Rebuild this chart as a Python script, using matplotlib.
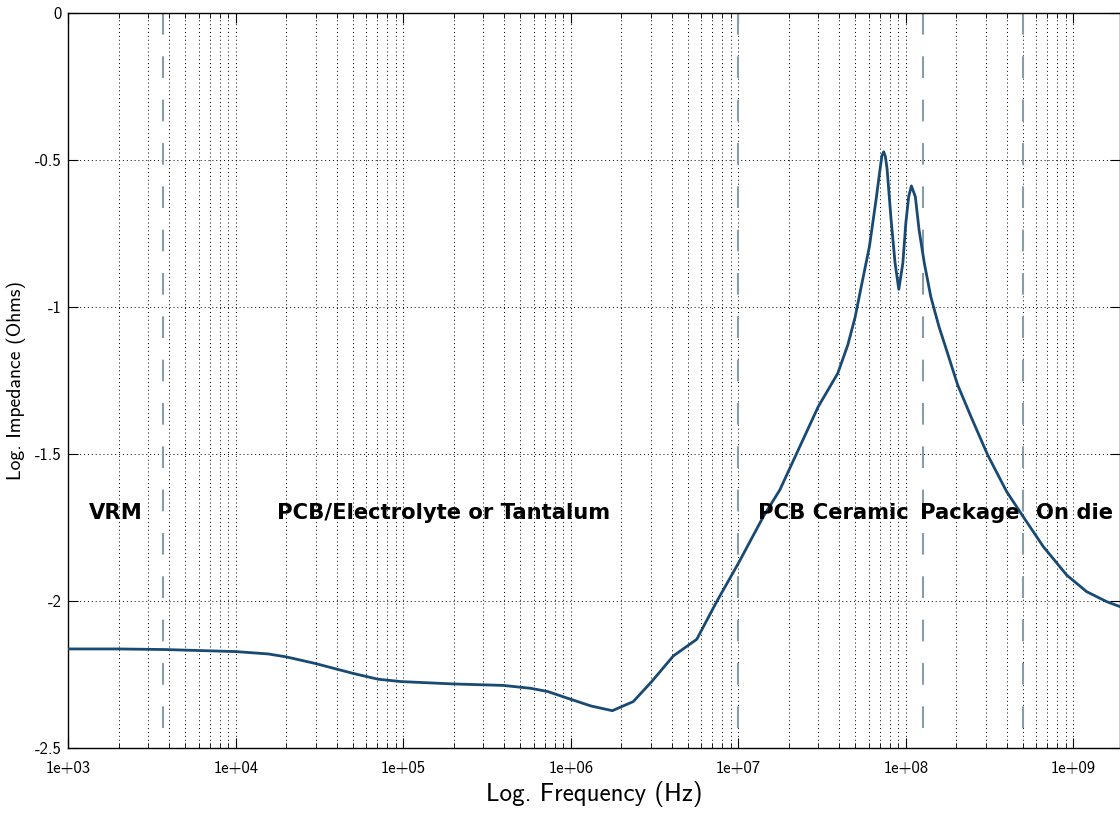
import matplotlib

matplotlib.use("Agg")
import matplotlib.pyplot as plt
from matplotlib.ticker import FixedLocator, FuncFormatter, LogLocator, NullFormatter
import numpy as np

# ---- data ----------------------------------------------------------------
freq_hz = [
    1.0e3, 1.98e3, 3.77e3, 1.0e4, 1.56e4, 2.0e4, 2.96e4, 5.0e4, 7.07e4, 9.7e4,
    1.98e5, 3.94e5, 5.78e5, 7.3e5, 9.6e5, 1.32e6, 1.77e6, 2.36e6, 3.04e6, 4.09e6,
    5.65e6, 7.43e6, 1.0e7, 1.41e7, 1.77e7, 2.23e7, 3.0e7, 3.92e7, 4.5e7, 4.98e7,
    5.4e7, 6.06e7, 6.64e7, 7.05e7, 7.2e7, 7.38e7, 7.55e7, 7.73e7, 8.17e7, 8.63e7,
    9.08e7, 9.6e7, 1.0e8, 1.04e8, 1.08e8, 1.14e8, 1.2e8, 1.29e8, 1.41e8, 1.58e8,
    1.70e8, 2.04e8, 2.45e8, 3.08e8, 4.0e8, 5.02e8, 6.62e8, 9.14e8, 1.2e9, 1.58e9,
    1.9e9,
]
log_impedance = [
    -2.163, -2.163, -2.165, -2.172, -2.180, -2.190, -2.212, -2.246, -2.266, -2.274,
    -2.282, -2.287, -2.297, -2.308, -2.331, -2.357, -2.373, -2.342, -2.274, -2.187,
    -2.130, -2.002, -1.872, -1.713, -1.622, -1.498, -1.339, -1.226, -1.130, -1.035,
    -0.935, -0.795, -0.636, -0.523, -0.485, -0.472, -0.488, -0.530, -0.704, -0.851,
    -0.940, -0.851, -0.715, -0.625, -0.588, -0.625, -0.738, -0.851, -0.965, -1.068,
    -1.124, -1.265, -1.373, -1.503, -1.628, -1.713, -1.815, -1.912, -1.968, -2.002,
    -2.019,
]

# boundaries between decoupling regions (Hz)
region_edges = [3.7e3, 1.0e7, 1.26e8, 5.0e8]
region_names = ["VRM", "PCB/Electrolyte or Tantalum", "PCB Ceramic", "Package", "On die"]
region_label_x = [1.93e3, 1.75e5, 3.68e7, 2.42e8, 1.02e9]
region_label_y = -1.70

x_ticks = [1e3, 1e4, 1e5, 1e6, 1e7, 1e8, 1e9]
y_ticks = [0, -0.5, -1, -1.5, -2, -2.5]

LINE = "#184a73"
EDGE = "#8a9ca6"
FONT = "cmss10"

plt.rcParams.update(
    {
        "font.family": FONT,
        "axes.unicode_minus": False,
        "axes.linewidth": 1.0,
        "xtick.direction": "in",
        "ytick.direction": "in",
        "xtick.top": True,
        "ytick.right": True,
        "xtick.major.size": 7,
        "ytick.major.size": 7,
        "xtick.minor.size": 3.5,
        "xtick.major.pad": 9,
        "ytick.major.pad": 5,
    }
)

fig = plt.figure(figsize=(11.2, 8.23), dpi=100)
ax = fig.add_axes([0.061, 0.0911, 0.939, 0.8931])

ax.set_xscale("log")
ax.set_xlim(1e3, 1.9e9)
ax.set_ylim(-2.5, 0)

# dotted grid underneath everything
ax.grid(True, which="both", axis="x", color="black", lw=0.7, ls=(0, (1, 3)))
ax.grid(True, which="major", axis="y", color="black", lw=0.7, ls=(0, (1, 3)))
ax.set_axisbelow(True)

for xe in region_edges:
    ax.plot([xe, xe], [0, -2.5], color=EDGE, lw=1.5, ls=(0, (10.4, 10.4)), zorder=2)

ax.plot(freq_hz, log_impedance, color=LINE, lw=2.0, zorder=3)

for name, xl in zip(region_names, region_label_x):
    ax.text(xl, region_label_y, name, fontsize=15.2, fontweight="bold",
            family="DejaVu Sans", ha="center", va="center", color="black", zorder=4)

ax.xaxis.set_major_locator(FixedLocator(x_ticks))
ax.xaxis.set_minor_locator(LogLocator(base=10, subs=np.arange(2, 10), numticks=12))
ax.xaxis.set_minor_formatter(NullFormatter())
ax.xaxis.set_major_formatter(FuncFormatter(lambda v, _: f"{v:.0e}"))
ax.yaxis.set_major_locator(FixedLocator(y_ticks))
ax.yaxis.set_major_formatter(FuncFormatter(lambda v, _: f"{v:g}"))
ax.tick_params(labelsize=12)

ax.set_xlabel("Log. Frequency (Hz)", fontsize=18, labelpad=4)
ax.set_ylabel("Log. Impedance (Ohms)", fontsize=14.2, labelpad=6)

fig.savefig("out.png", dpi=100, facecolor="white")
